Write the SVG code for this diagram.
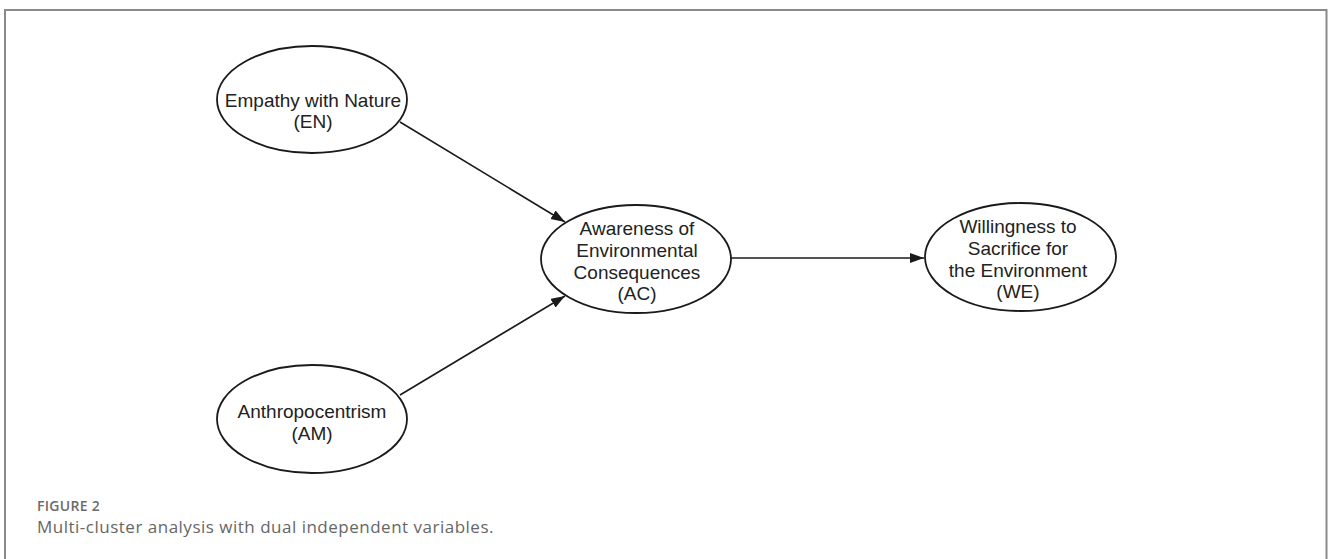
<svg xmlns="http://www.w3.org/2000/svg" width="1328" height="559" viewBox="0 0 1328 559">
<style>
.node ellipse{fill:#fff;stroke:#1a1a1a;stroke-width:1.8}
.node text{font-family:"Liberation Sans",Arial,sans-serif;font-size:19px;fill:#222;text-anchor:middle}
.edge{stroke:#1a1a1a;stroke-width:1.6;fill:none;marker-end:url(#arr)}
.cap1{font-family:"Open Sans","Noto Sans",sans-serif;font-size:14px;font-weight:600;letter-spacing:0.3px;fill:#6b6b6b}
.cap2{font-family:"Open Sans","Noto Sans",sans-serif;font-size:17px;letter-spacing:0.5px;fill:#666}
</style>
<defs>
<marker id="arr" markerUnits="userSpaceOnUse" markerWidth="16" markerHeight="11" refX="14" refY="5" orient="auto">
<path d="M0,0 L14,5 L0,10 z" fill="#1a1a1a"/>
</marker>
</defs>
<rect width="1328" height="559" fill="#fff"/>
<path d="M5,560 V10 H1326.5 V560" fill="none" stroke="#8a8a8a" stroke-width="2"/>
<g id="connectors">
<line class="edge" x1="400" y1="122" x2="565" y2="222"/>
<line class="edge" x1="400" y1="395" x2="565" y2="296"/>
<line class="edge" x1="731" y1="258" x2="924" y2="258"/>
</g>
<g id="EN" class="node">
<ellipse cx="312" cy="99.5" rx="95" ry="53.5"/>
<text x="313" y="107">Empathy with Nature</text>
<text x="313" y="128">(EN)</text>
</g>
<g id="AC" class="node">
<ellipse cx="636" cy="259" rx="95" ry="54"/>
<text x="637" y="235">Awareness of</text>
<text x="637" y="257">Environmental</text>
<text x="637" y="279">Consequences</text>
<text x="637" y="300">(AC)</text>
</g>
<g id="WE" class="node">
<ellipse cx="1020.5" cy="257" rx="95.5" ry="54"/>
<text x="1018" y="233">Willingness to</text>
<text x="1018" y="255">Sacrifice for</text>
<text x="1018" y="277">the Environment</text>
<text x="1018" y="298">(WE)</text>
</g>
<g id="AM" class="node">
<ellipse cx="312" cy="419" rx="95" ry="54"/>
<text x="312" y="418">Anthropocentrism</text>
<text x="312" y="440">(AM)</text>
</g>
<text class="cap1" x="37" y="511">FIGURE 2</text>
<text class="cap2" x="37" y="533">Multi-cluster analysis with dual independent variables.</text>
</svg>
